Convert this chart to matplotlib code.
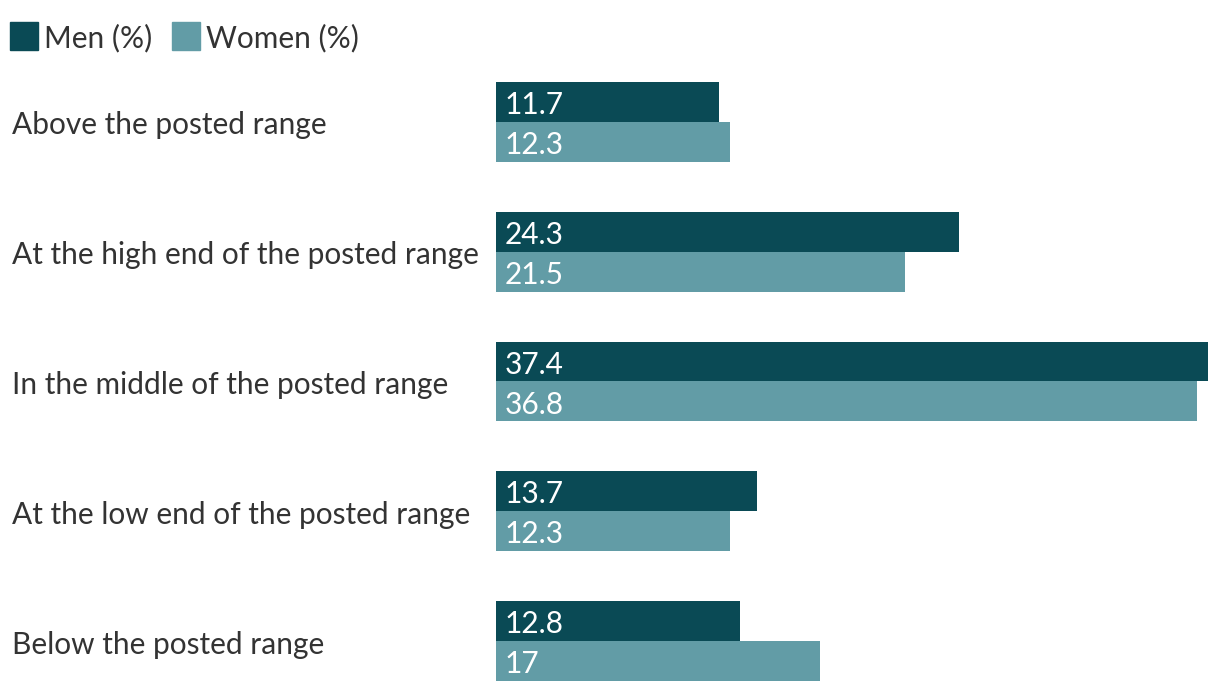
import matplotlib.pyplot as plt
from matplotlib.patches import Rectangle
import matplotlib.transforms as mtransforms

# Data
categories = [
    "Above the posted range",
    "At the high end of the posted range",
    "In the middle of the posted range",
    "At the low end of the posted range",
    "Below the posted range",
]
men = [11.7, 24.3, 37.4, 13.7, 12.8]
women = [12.3, 21.5, 36.8, 12.3, 17]
value_labels_men = ["11.7", "24.3", "37.4", "13.7", "12.8"]
value_labels_women = ["12.3", "21.5", "36.8", "12.3", "17"]
series_names = ["Men (%)", "Women (%)"]

MEN_COLOR = "#0a4a55"
WOMEN_COLOR = "#629ca6"
TEXT_COLOR = "#333333"
FONT = ["Lato", "DejaVu Sans"]
FS = 21.5

W, H = 1220, 694
fig = plt.figure(figsize=(W / 100, H / 100), dpi=100)

# axes area in pixels: x 496..1208, y 82..681
ax = fig.add_axes([496 / W, (H - 681) / H, (1208 - 496) / W, (681 - 82) / H])

h = 40 / 130
ys = list(range(len(categories)))
ax.barh([y - h / 2 for y in ys], men, height=h, color=MEN_COLOR)
ax.barh([y + h / 2 for y in ys], women, height=h, color=WOMEN_COLOR)
ax.set_xlim(0, max(men))
ax.set_ylim(len(categories) - 1 + h, -h)
ax.axis("off")

# value labels inside bars
for y, lm, lw in zip(ys, value_labels_men, value_labels_women):
    for yy, lab in [(y - h / 2, lm), (y + h / 2, lw)]:
        ax.annotate(lab, (0, yy), xytext=(6.5, -2.2), textcoords="offset points",
                    va="center", ha="left", color="white", fontsize=FS, family=FONT)

# category labels on the left
trans = mtransforms.blended_transform_factory(fig.transFigure, ax.transData)
for y, cat in zip(ys, categories):
    ax.annotate(cat, (12 / W, y), xycoords=trans, xytext=(0, -2.5),
                textcoords="offset points", ha="left", va="center",
                color=TEXT_COLOR, fontsize=FS, family=FONT)

# legend at top
leg_x = [10, 172]
for x0, name, col in zip(leg_x, series_names, [MEN_COLOR, WOMEN_COLOR]):
    fig.patches.append(Rectangle((x0 / W, (H - 50) / H), 28 / W, 28 / H,
                                 transform=fig.transFigure, color=col))
    fig.text((x0 + 34) / W, (H - 38.5) / H, name, ha="left", va="center",
             color=TEXT_COLOR, fontsize=FS, family=FONT)

fig.savefig("out.png", dpi=100)
